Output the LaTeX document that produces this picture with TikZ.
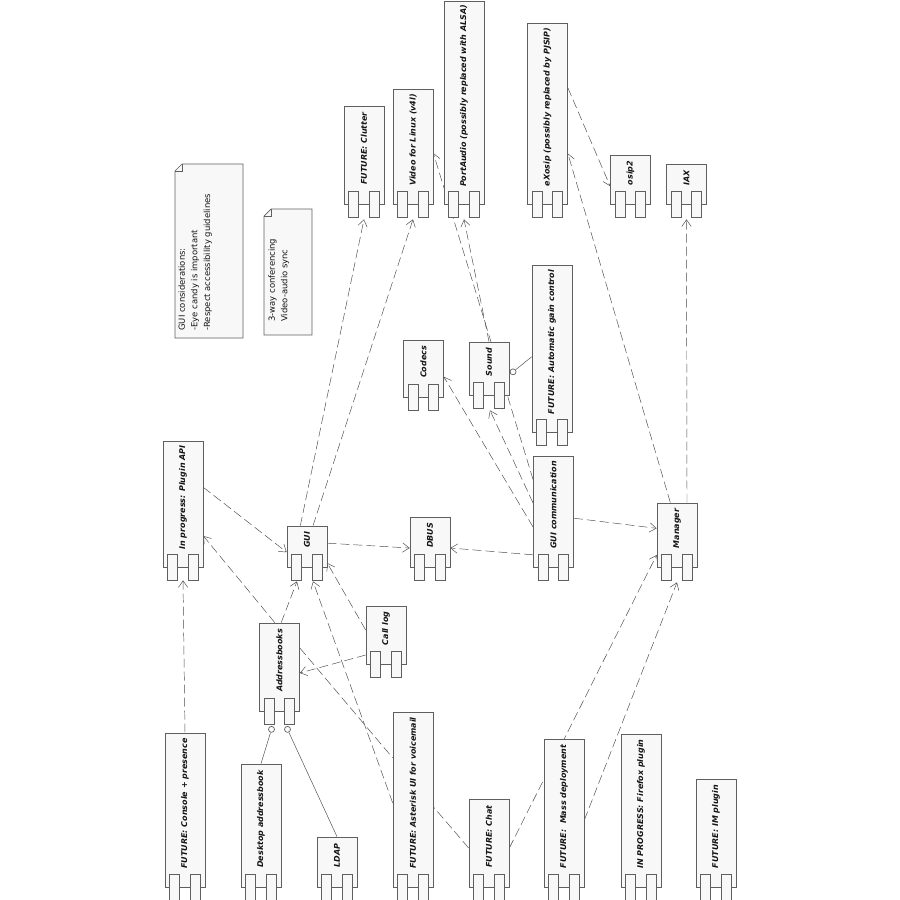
\documentclass[tikz,border=0pt]{standalone}
\usepackage{fontspec}
\setmainfont{DejaVu Sans}
\usepackage{graphicx}
\usetikzlibrary{arrows.meta,positioning,backgrounds}
\definecolor{umlFill}{RGB}{248,248,248}
\definecolor{umlEdge}{RGB}{95,95,95}
\definecolor{umlLine}{RGB}{75,75,75}
\definecolor{umlText}{RGB}{20,20,20}
\newcommand{\comptitle}[1]{\rotatebox{90}{\hspace{0.39cm}#1}}

\begin{document}
\begin{tikzpicture}[x=0.03cm,y=-0.03cm,line width=0.6pt,
    port/.style={draw=umlEdge,fill=umlFill,minimum width=0.3cm,minimum height=0.78cm,inner sep=0pt},
    comp/.style={draw=umlEdge,fill=umlFill,minimum width=1.2cm,inner sep=0pt,text=umlText,
      font=\fontsize{6.8}{8}\selectfont\bfseries\itshape,
      label={[port,anchor=center,xshift=-0.31cm]below:{}},
      label={[port,anchor=center,xshift=0.31cm]below:{}}},
    ball/.style={circle,draw=umlEdge,fill=white,minimum size=0.18cm,inner sep=0pt},
    notetext/.style={rotate=90,anchor=north west,align=left,inner sep=0pt,text=umlText,
      font=\fontsize{7.2}{10.8}\selectfont},
    dep/.style={draw=umlLine,dash pattern=on 0.27cm off 0.12cm,-{Straight Barb[length=0.2cm,width=0.28cm]}},
    link/.style={draw=umlLine,dash pattern=on 0.27cm off 0.12cm},
    wire/.style={draw=umlLine}
  ]
  \useasboundingbox (0,0) rectangle (900,900);

  % notes
  \draw[draw=umlEdge,fill=umlFill] (182,164) -- (243,164) -- (243,338) -- (175,338) -- (175,171) -- cycle;
  \draw[draw=umlEdge] (175,171) -- (182,171) -- (182,164);
  \node[notetext] (guinote) at (178,331) {GUI considerations:\\-Eye candy is important\\-Respect accessibility guidelines};
  \draw[draw=umlEdge,fill=umlFill] (271,209) -- (312,209) -- (312,335) -- (264,335) -- (264,216) -- cycle;
  \draw[draw=umlEdge] (264,216) -- (271,216) -- (271,209);
  \node[notetext] (avnote) at (268,322) {3-way conferencing\\Video-audio sync};

  % libraries on top
  \node[comp,minimum height=2.94cm] (clutter) at (364,155) {\comptitle{FUTURE: Clutter}};
  \node[comp,minimum height=3.45cm] (v4l) at (413,146.5) {\comptitle{Video for Linux (v4l)}};
  \node[comp,minimum height=6.09cm] (portaudio) at (464,102.5) {\comptitle{PortAudio (possibly replaced with ALSA)}};
  \node[comp,minimum height=5.43cm] (exosip) at (547.5,113.5) {\comptitle{eXosip (possibly replaced by PJSIP)}};
  \node[comp,minimum height=1.47cm] (osip2) at (630.5,179.5) {\comptitle{osip2}};
  \node[comp,minimum height=1.2cm] (iax) at (686.5,184) {\comptitle{IAX}};

  % middle
  \node[comp,minimum height=1.71cm] (codecs) at (423.5,368.5) {\comptitle{Codecs}};
  \node[comp,minimum height=1.59cm] (sound) at (489,368.5) {\comptitle{Sound}};
  \node[comp,minimum height=5.01cm] (agc) at (552,348.5) {\comptitle{FUTURE: Automatic gain control}};
  \node[comp,minimum height=3.78cm] (plugin) at (183,504) {\comptitle{In progress: Plugin API}};
  \node[comp,minimum height=1.23cm] (gui) at (307,546.5) {\comptitle{GUI}};
  \node[comp,minimum height=1.5cm] (dbus) at (430,542) {\comptitle{DBUS}};
  \node[comp,minimum height=3.33cm] (guicomm) at (553.5,511.5) {\comptitle{GUI communication}};
  \node[comp,minimum height=1.92cm] (manager) at (677,535) {\comptitle{Manager}};
  \node[comp,minimum height=1.74cm] (calllog) at (386,635) {\comptitle{Call log}};
  \node[comp,minimum height=2.64cm] (addrbooks) at (279.5,667) {\comptitle{Addressbooks}};

  % bottom row
  \node[comp,minimum height=4.62cm] (console) at (185,810) {\comptitle{FUTURE: Console + presence}};
  \node[comp,minimum height=3.69cm] (desktop) at (261,825.5) {\comptitle{Desktop addressbook}};
  \node[comp,minimum height=1.5cm] (ldap) at (337,862) {\comptitle{LDAP}};
  \node[comp,minimum height=5.25cm] (asterisk) at (413,799.5) {\comptitle{FUTURE: Asterisk UI for voicemail}};
  \node[comp,minimum height=2.64cm] (chat) at (489,843) {\comptitle{FUTURE: Chat}};
  \node[comp,minimum height=4.44cm] (massdep) at (564,813) {\comptitle{FUTURE:\ \ Mass deployment}};
  \node[comp,minimum height=4.59cm] (firefox) at (641,810.5) {\comptitle{IN PROGRESS: Firefox plugin}};
  \node[comp,minimum height=3.24cm] (implugin) at (716,833) {\comptitle{FUTURE: IM plugin}};

  % provided interfaces
  \node[ball] (deskball) at ([xshift=-0.24cm,yshift=-0.54cm]addrbooks.south) {};
  \node[ball] (ldapball) at ([xshift=0.24cm,yshift=-0.54cm]addrbooks.south) {};
  \node[ball] (agcball) at ([xshift=0.11cm,yshift=-0.1cm]sound.east) {};

  \begin{scope}[on background layer]
    \draw[dep] (console.north) -- ([yshift=-0.39cm]plugin.south);
    \draw[dep] ([yshift=0.5cm]plugin.east) -- ([yshift=-0.17cm]gui.west);
    \draw[dep] ([xshift=-0.14cm]addrbooks.north) -- ([yshift=-0.96cm]plugin.east);
    \draw[dep] ([xshift=0.05cm]addrbooks.north) -- ([xshift=-0.3cm,yshift=-0.42cm]gui.south);
    \draw[dep] ([yshift=0.15cm]calllog.west) -- ([yshift=-0.5cm]gui.east);
    \draw[dep] ([yshift=-0.6cm]calllog.west) -- ([yshift=-0.18cm]addrbooks.east);
    \draw[dep] ([yshift=-0.1cm]asterisk.west) -- ([xshift=0.18cm,yshift=-0.42cm]gui.south);
    \draw[link] ([yshift=0.57cm]addrbooks.east) -- ([yshift=1.25cm]asterisk.west);
    \draw[link] ([yshift=-0.15cm]chat.west) -- ([yshift=-0.22cm]asterisk.east);
    \draw[dep] ([yshift=-0.15cm]chat.east) -- ([yshift=-0.6cm]manager.west);
    \draw[dep] ([yshift=-0.21cm]massdep.east) -- ([yshift=-0.45cm]manager.south);
    \draw[dep] ([yshift=-1.3cm]guicomm.west) -- ([yshift=-0.18cm]dbus.east);
    \draw[dep] ([yshift=0.1cm]gui.east) -- ([yshift=-0.18cm]dbus.west);
    \draw[dep] ([yshift=-0.2cm]guicomm.east) -- ([yshift=0.2cm]manager.west);
    \draw[dep] ([yshift=-0.47cm]guicomm.west) -- ([yshift=-0.25cm]codecs.east);
    \draw[dep] ([yshift=0.25cm]guicomm.west) -- ([xshift=0.03cm,yshift=-0.45cm]sound.south);
    \draw[dep] ([yshift=0.95cm]guicomm.west) -- ([yshift=-0.2cm]v4l.east);
    \draw[dep] (sound.north) -- ([yshift=-0.45cm]portaudio.south);
    \draw[dep] ([xshift=-0.2cm]gui.north) -- ([yshift=-0.45cm]clutter.south);
    \draw[dep] ([xshift=0.18cm]gui.north) -- ([yshift=-0.45cm]v4l.south);
    \draw[dep] ([xshift=-0.2cm]manager.north) -- ([yshift=-1.2cm]exosip.east);
    \draw[dep] ([xshift=0.3cm]manager.north) -- ([yshift=-0.45cm]iax.south);
    \draw[dep] ([yshift=0.77cm]exosip.east) -- ([yshift=-0.2cm]osip2.west);
    \draw[wire] ([yshift=-0.25cm]agc.west) -- (agcball);
    \draw[wire] (desktop.north) -- (deskball);
    \draw[wire] (ldap.north) -- (ldapball);
  \end{scope}
\end{tikzpicture}
\end{document}
